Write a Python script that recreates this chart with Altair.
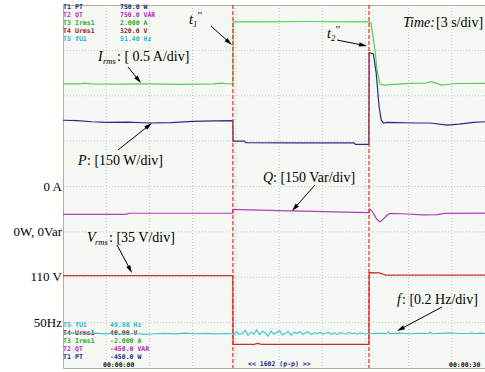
import math
import altair as alt
import pandas as pd

# ------------------------------------------------------------------
# Values (time in s, 3 s/div)
# ------------------------------------------------------------------
t1_event = 11.80
t2_event = 21.25

# Irms (A), screen range -2.000 .. 2.000 A
irms_t = [0.0, 1.2, 1.5, 1.9, 4.0, 6.0, 8.0, 10.5, 11.0, 11.4,
          11.80, 11.82, 14.0, 17.0, 20.0, 21.25, 21.39, 21.46, 21.67, 21.81,
          22.01, 22.3, 24.0, 25.2, 25.6, 26.3, 27.3, 29.31]
irms_v = [1.130, 1.130, 1.140, 1.130, 1.128, 1.130, 1.125, 1.130, 1.140, 1.132,
          1.130, 1.815, 1.815, 1.818, 1.815, 1.815, 1.800, 1.720, 1.500, 1.280,
          1.130, 1.118, 1.137, 1.140, 1.155, 1.118, 1.135, 1.137]

# P (W), screen range -450 .. 750 W
p_t = [0.0, 1.0, 2.0, 3.0, 4.5, 6.0, 7.5, 9.0, 10.5, 11.79,
       11.81, 12.6, 12.7, 16.0, 20.2, 20.3, 21.24, 21.26, 21.55, 21.75,
       21.95, 22.1, 22.25, 22.5, 24.5, 25.5, 26.7, 27.5, 28.5, 29.31]
p_v = [369, 368, 364, 362, 363, 360, 361, 365, 367, 368,
       300, 300, 295, 294, 294, 289, 289, 592, 588, 525,
       414, 370, 360, 362, 360, 360, 353, 356, 362, 364]

# Q (Var), screen range -450 .. 750 VAR
q_t = [0.0, 4.4, 4.6, 8.0, 11.79, 11.81, 13.0, 15.0, 17.5, 19.5,
       21.24, 21.3, 21.5, 21.75, 22.0, 22.2, 22.5, 22.7, 23.5, 25.0,
       26.0, 26.5, 29.31]
q_v = [58, 58, 61.5, 61.5, 61.5, 74.5, 73, 70.5, 68, 65,
       63.5, 75, 66, 45, 33, 40, 55, 61, 60, 56,
       57, 61, 62]

# Vrms (V), screen range 40 .. 320 V
v_t = [0.0, 11.79, 11.81, 13.3, 13.5, 13.8, 21.24, 21.26, 22.0, 22.4, 29.31]
v_v = [111.2, 111.2, 58.3, 58.3, 59.0, 58.3, 58.3, 113.5, 113.3, 111.7, 111.7]

# f (Hz), screen range 49.80 .. 51.40 Hz
f_t = [0.0, 0.7, 1.4, 2.2, 2.9, 3.6, 4.3, 5.0, 5.7, 6.4,
       7.1, 7.8, 8.5, 9.2, 9.9, 10.6, 11.3, 11.78,
       11.85, 12.05, 12.25, 12.45, 12.65, 12.85, 13.05, 13.25, 13.45, 13.65,
       13.85, 14.05, 14.25, 14.45, 14.65, 14.85, 15.05, 15.25, 15.45, 15.65,
       15.85, 16.05, 16.25, 16.45, 16.65, 16.85, 17.05, 17.25, 17.45, 17.65,
       17.85, 18.05, 18.25, 18.45, 18.65, 18.85, 19.05, 19.25, 19.45, 19.65,
       19.85, 20.05, 20.25, 20.45, 20.65, 20.85, 21.05, 21.20,
       21.30, 21.90, 22.50, 22.60, 22.70, 23.30, 24.00, 24.70, 25.40, 25.50,
       25.60, 26.20, 26.90, 27.60, 28.30, 28.40, 28.50, 29.00, 29.31]
f_v = [49.952, 49.955, 49.951, 49.954, 49.950, 49.953, 49.949, 49.952, 49.948, 49.951,
       49.953, 49.950, 49.954, 49.951, 49.953, 49.950, 49.952, 49.951,
       49.945, 49.960, 49.948, 49.952, 49.966, 49.944, 49.958, 49.950, 49.968, 49.947,
       49.962, 49.955, 49.941, 49.963, 49.949, 49.957, 49.964, 49.946, 49.953, 49.960,
       49.945, 49.958, 49.952, 49.961, 49.948, 49.955, 49.959, 49.947, 49.956, 49.951,
       49.958, 49.949, 49.953, 49.957, 49.950, 49.955, 49.948, 49.956, 49.952, 49.950,
       49.957, 49.951, 49.954, 49.949, 49.955, 49.952, 49.950, 49.953,
       49.951, 49.953, 49.952, 49.960, 49.952, 49.954, 49.951, 49.953, 49.952, 49.958,
       49.951, 49.953, 49.955, 49.952, 49.953, 49.957, 49.951, 49.954, 49.952]

# channel readouts (top = screen maximum, bottom = screen minimum)
chan_ids = ["T1", "T2", "T3", "T4", "T5"]
chan_names = ["PT", "QT", "Irms1", "Urms1", "fU1"]
chan_top = ["750.0 W", "750.0 VAR", "2.000 A", "320.0 V", "51.40 Hz"]
chan_bot = ["-450.0 W", "-450.0 VAR", "-2.000 A", "40.00 V", "49.80 Hz"]
chan_colors = ["#1e1e8c", "#c020c0", "#28a828", "#a01818", "#20b8d0"]

level_labels = ["0 A", "0W, 0Var", "110 V", "50Hz"]
level_divs = [4, 3, 2, 1]

# ------------------------------------------------------------------
# Layout helpers
# ------------------------------------------------------------------
W, H = 422, 363
X0, Y0 = 63, 5
PX_PER_S = 43.2 / 3.0
PX_PER_DIV = H / 8.0
T_MAX = W / PX_PER_S


def t_of(px):
    return (px - X0) / PX_PER_S


def d_of(py):
    return 8 - (py - Y0) / PX_PER_DIV


xs = alt.Scale(domain=[0, T_MAX], nice=False, zero=False)
X = alt.X("t:Q", scale=xs, axis=None)
divs = alt.Scale(domain=[0, 8], nice=False, zero=False)
Yd = alt.Y("d:Q", scale=divs, axis=None)


def series(ts, vs, dom, color):
    df = pd.DataFrame({"t": ts, "v": vs, "i": range(len(ts))})
    return alt.Chart(df).mark_line(color=color, strokeWidth=1.2).encode(
        x=X,
        y=alt.Y("v:Q", scale=alt.Scale(domain=dom, nice=False, zero=False), axis=None),
        order="i:Q",
    )


# grid
vgrid = alt.Chart(pd.DataFrame({"t": [3 * k for k in range(1, 10)]})).mark_rule(
    color="#c4c4c4", strokeDash=[1, 2], strokeWidth=1
).encode(x=X)
hgrid = alt.Chart(pd.DataFrame({"d": list(range(1, 8))})).mark_rule(
    color="#c4c4c4", strokeDash=[1, 2], strokeWidth=1
).encode(y=Yd)

# event markers
markers = alt.Chart(pd.DataFrame({"t": [t1_event, t2_event]})).mark_rule(
    color="#ff2020", strokeDash=[4, 2], strokeWidth=1.2
).encode(x=X)

# channel readouts
rows = []
for k in range(5):
    ytop = 7 + 8 * k
    ybot = 357 - 8 * k
    c = chan_colors[k]
    rows += [(63, ytop, chan_ids[k], c), (75, ytop, chan_names[k], c), (120, ytop, chan_top[k], c),
             (63, ybot, chan_ids[k], c), (75, ybot, chan_names[k], c), (110, ybot, chan_bot[k], c)]
rows += [(103, 365, "00:00:00", "#101010"), (248, 364, "<< 1602 (p-p) >>", "#1e1e8c"),
         (449, 365, "00:00:30", "#101010")]
rd = pd.DataFrame({"t": [t_of(r[0]) for r in rows], "d": [d_of(r[1]) for r in rows],
                   "s": [r[2] for r in rows], "c": [r[3] for r in rows]})
readouts = alt.Chart(rd).mark_text(
    align="left", baseline="middle", font="DejaVu Sans Mono", fontSize=6.5, fontWeight="bold"
).encode(x=X, y=Yd, text="s:N", color=alt.Color("c:N", scale=None))

# level labels left of the screen
lv = pd.DataFrame({"d": level_divs, "s": level_labels})
levels = alt.Chart(lv).mark_text(
    align="right", baseline="middle", font="Liberation Serif", fontSize=13, color="black"
).encode(x=alt.value(-1), y=Yd, text="s:N")

# annotation texts (pixel anchor of each piece)
pieces = [
    (189, 20, "t", "it"), (193, 24, "1", "sub"), (197, 16, "''", "sup"),
    (327, 34, "t", "it"), (331, 38, "2", "sub"), (335, 30, "''", "sup"),
    (403, 23, "Time:", "it"), (436, 23, "[3 s/div]", "rm"),
    (98, 57, "I", "it"), (103, 61, "rms", "sub"), (117, 57, ": [ 0.5 A/div]", "rm"),
    (78, 161, "P", "it"), (87, 161, ": [150 W/div]", "rm"),
    (263, 178, "Q", "it"), (273, 178, ": [150 Var/div]", "rm"),
    (87, 238, "V", "it"), (95, 242, "rms", "sub"), (109, 238, ": [35 V/div]", "rm"),
    (397, 300, "f", "it"), (402, 300, ": [0.2 Hz/div]", "rm"),
]
styles = {"it": (14, "italic"), "rm": (14, "normal"), "sub": (8.5, "italic"), "sup": (11, "italic")}
ann_layers = []
for st, (fs, fst) in styles.items():
    sel = [p for p in pieces if p[3] == st]
    df = pd.DataFrame({"t": [t_of(p[0]) for p in sel], "d": [d_of(p[1]) for p in sel],
                       "s": [p[2] for p in sel]})
    ann_layers.append(alt.Chart(df).mark_text(
        align="left", baseline="middle", font="Liberation Serif", fontSize=fs,
        fontStyle=fst, color="black"
    ).encode(x=X, y=Yd, text="s:N"))

# arrows (pixel start -> pixel tip)
arrows = [
    ((211, 26), (232, 45)),
    ((337, 40), (367, 46)),
    ((128, 67), (141, 83)),
    ((118, 150), (152, 123)),
    ((315, 185), (292, 211)),
    ((117, 245), (132, 273)),
    ((442, 307), (397, 331)),
]
HEAD = 64
r = math.sqrt(HEAD) / 2
sh, hd = [], []
for (x1, y1), (x2, y2) in arrows:
    dx, dy = x2 - x1, y2 - y1
    L = math.hypot(dx, dy)
    ux, uy = dx / L, dy / L
    cx, cy = x2 - r * ux, y2 - r * uy
    ang = math.degrees(math.atan2(dx, -dy)) % 360
    sh.append({"t": t_of(x1), "d": d_of(y1), "t2": t_of(cx), "d2": d_of(cy)})
    hd.append({"t": t_of(cx), "d": d_of(cy), "a": ang})
shafts = alt.Chart(pd.DataFrame(sh)).mark_rule(color="black", strokeWidth=1).encode(
    x=X, y=Yd, x2="t2:Q", y2="d2:Q")
heads = alt.Chart(pd.DataFrame(hd)).mark_point(
    shape="M0,-1L0.55,1L-0.55,1Z", filled=True, size=HEAD, color="black", opacity=1, strokeWidth=0
).encode(x=X, y=Yd, angle=alt.Angle("a:Q", scale=None))

chart = alt.layer(
    vgrid, hgrid,
    readouts,
    series(irms_t, irms_v, [-2, 2], "#5ccc5c"),
    series(p_t, p_v, [-450, 750], "#2a2a84"),
    series(q_t, q_v, [-450, 750], "#b040b8"),
    series(v_t, v_v, [40, 320], "#c83030"),
    series(f_t, f_v, [49.80, 51.40], "#40c8d4"),
    markers,
    levels,
    *ann_layers,
    shafts, heads,
).resolve_scale(y="independent").properties(
    width=W, height=H,
    autosize="none",
    padding={"left": X0, "top": Y0, "right": 0, "bottom": 4},
    background="white",
).configure_view(fill="#f5f8f3", stroke="#b8ae98", strokeWidth=1)

chart.save("out.html", embed_options={"renderer": "svg", "actions": False})
